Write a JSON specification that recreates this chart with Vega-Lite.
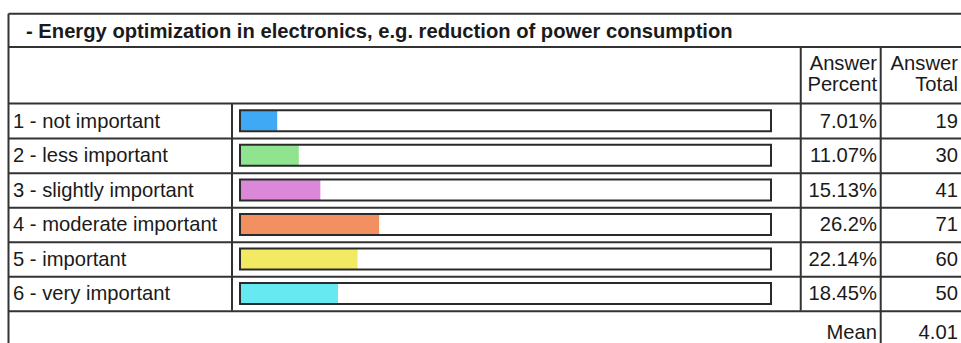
{
  "$schema": "https://vega.github.io/schema/vega-lite/v6.json",
  "width": 961,
  "height": 343,
  "autosize": {"type": "none"},
  "padding": 0,
  "background": "white",
  "view": {"stroke": null},
  "config": {"font": "Liberation Sans", "text": {"font": "Liberation Sans", "fontSize": 20.2, "color": "#1a1a1a"}},
  "datasets": {
    "rows": [
      {"row": 1, "label": "1 - not important", "percent": 0.0701, "total": 19},
      {"row": 2, "label": "2 - less important", "percent": 0.1107, "total": 30},
      {"row": 3, "label": "3 - slightly important", "percent": 0.1513, "total": 41},
      {"row": 4, "label": "4 - moderate important", "percent": 0.262, "total": 71},
      {"row": 5, "label": "5 - important", "percent": 0.2214, "total": 60},
      {"row": 6, "label": "6 - very important", "percent": 0.1845, "total": 50}
    ],
    "summary": [{"stat": "Mean", "value": 4.01}]
  },
  "data": {"name": "rows"},
  "encoding": {
    "x": {"type": "quantitative", "scale": {"domain": [-0.452, 1.3578], "nice": false, "zero": false}, "axis": null},
    "y": {"type": "quantitative", "scale": {"domain": [-2.353, 7.287], "nice": false, "zero": false, "reverse": true}, "axis": null}
  },
  "layer": [
    {
      "mark": {"type": "bar", "orient": "horizontal", "size": 20},
      "encoding": {
        "x": {"field": "percent", "type": "quantitative"},
        "x2": {"datum": 0},
        "y": {"field": "row", "type": "quantitative"},
        "color": {"field": "label", "type": "nominal", "legend": null,
          "scale": {"domain": ["1 - not important", "2 - less important", "3 - slightly important", "4 - moderate important", "5 - important", "6 - very important"],
                    "range": ["#40a9f5", "#90e38f", "#dc88d8", "#f39062", "#f2ea62", "#66e9f1"]}}
      }
    },
    {
      "mark": {"type": "bar", "orient": "horizontal", "size": 21, "fill": null, "fillOpacity": 0, "stroke": "#2a2a2a", "strokeWidth": 2},
      "encoding": {
        "x": {"datum": 0},
        "x2": {"datum": 1},
        "y": {"field": "row", "type": "quantitative"}
      }
    },
    {
      "mark": {"type": "rule", "stroke": "#333333", "strokeWidth": 2, "yOffset": 17.8},
      "encoding": {
        "x": {"datum": -0.436},
        "x2": {"datum": 1.43},
        "y": {"field": "row", "type": "quantitative"}
      }
    },
    {
      "data": {"values": [{}]},
      "mark": {"type": "rule", "stroke": "#333333", "strokeWidth": 2},
      "encoding": {"x": {"datum": -0.436}, "x2": {"datum": 1.43}, "y": {"datum": -2.1}}
    },
    {
      "data": {"values": [{}]},
      "mark": {"type": "rule", "stroke": "#333333", "strokeWidth": 2},
      "encoding": {"x": {"datum": -0.436}, "x2": {"datum": 1.43}, "y": {"datum": -1.136}}
    },
    {
      "data": {"values": [{}]},
      "mark": {"type": "rule", "stroke": "#333333", "strokeWidth": 2},
      "encoding": {"x": {"datum": -0.436}, "x2": {"datum": 1.43}, "y": {"datum": 0.5}}
    },
    {
      "data": {"values": [{}]},
      "mark": {"type": "rule", "stroke": "#333333", "strokeWidth": 2},
      "encoding": {"x": {"datum": -0.436}, "y": {"datum": -2.1}, "y2": {"datum": 8}}
    },
    {
      "data": {"values": [{}]},
      "mark": {"type": "rule", "stroke": "#333333", "strokeWidth": 2},
      "encoding": {"x": {"datum": -0.0151}, "y": {"datum": 0.5}, "y2": {"datum": 6.5}}
    },
    {
      "data": {"values": [{}]},
      "mark": {"type": "rule", "stroke": "#333333", "strokeWidth": 2},
      "encoding": {"x": {"datum": 1.056}, "y": {"datum": -1.136}, "y2": {"datum": 6.5}}
    },
    {
      "data": {"values": [{}]},
      "mark": {"type": "rule", "stroke": "#333333", "strokeWidth": 2},
      "encoding": {"x": {"datum": 1.2066}, "y": {"datum": -1.136}, "y2": {"datum": 8}}
    },
    {
      "mark": {"type": "text", "align": "left", "baseline": "alphabetic", "dy": 6.7},
      "encoding": {
        "x": {"datum": -0.4275},
        "y": {"field": "row", "type": "quantitative"},
        "text": {"field": "label", "type": "nominal"}
      }
    },
    {
      "mark": {"type": "text", "align": "right", "baseline": "alphabetic", "dy": 6.7},
      "encoding": {
        "x": {"datum": 1.1996},
        "y": {"field": "row", "type": "quantitative"},
        "text": {"field": "percent", "type": "quantitative", "format": ".2~%"}
      }
    },
    {
      "mark": {"type": "text", "align": "right", "baseline": "alphabetic", "dy": 6.7},
      "encoding": {
        "x": {"datum": 1.352},
        "y": {"field": "row", "type": "quantitative"},
        "text": {"field": "total", "type": "quantitative"}
      }
    },
    {
      "data": {"values": [{}]},
      "mark": {"type": "text", "align": "left", "baseline": "alphabetic", "fontWeight": "bold"},
      "encoding": {
        "x": {"datum": -0.403},
        "y": {"datum": -1.411},
        "text": {"value": "- Energy optimization in electronics, e.g. reduction of power consumption"}
      }
    },
    {
      "data": {"values": [{}]},
      "mark": {"type": "text", "align": "right", "baseline": "alphabetic", "lineHeight": 21},
      "encoding": {
        "x": {"datum": 1.1996},
        "y": {"datum": -0.47},
        "text": {"value": ["Answer", "Percent"]}
      }
    },
    {
      "data": {"values": [{}]},
      "mark": {"type": "text", "align": "right", "baseline": "alphabetic", "lineHeight": 21},
      "encoding": {
        "x": {"datum": 1.352},
        "y": {"datum": -0.47},
        "text": {"value": ["Answer", "Total"]}
      }
    },
    {
      "data": {"name": "summary"},
      "mark": {"type": "text", "align": "right", "baseline": "alphabetic"},
      "encoding": {
        "x": {"datum": 1.1996},
        "y": {"datum": 7.315},
        "text": {"field": "stat", "type": "nominal"}
      }
    },
    {
      "data": {"name": "summary"},
      "mark": {"type": "text", "align": "right", "baseline": "alphabetic"},
      "encoding": {
        "x": {"datum": 1.352},
        "y": {"datum": 7.315},
        "text": {"field": "value", "type": "quantitative", "format": ".2f"}
      }
    }
  ]
}
